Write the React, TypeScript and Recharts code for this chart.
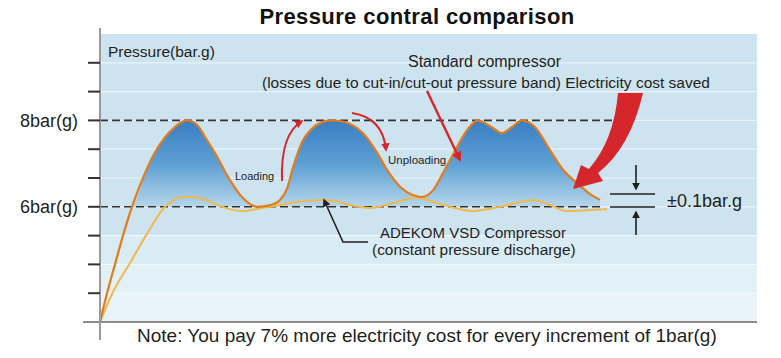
import React from 'react';
import {
  ComposedChart,
  Line,
  Area,
  XAxis,
  YAxis,
  ReferenceArea,
  ReferenceLine,
} from 'recharts';

// Chart box
const W = 781;
const H = 358;
const FONT = '"Liberation Sans", Arial, Helvetica, sans-serif';

// time axis 0..100, pressure level in grid steps (8bar(g) = 7, 6bar(g) = 4)
const stdTime = [
  0, 1.07, 2.28, 3.5, 4.87, 6.85, 8.4, 9.9, 11.4, 13.2, 14.8, 16.0, 17.5, 19.5, 21.6, 24.0,
  25.9, 27.4, 28.5, 29.4, 30.7, 32.4, 33.8, 35.0, 36.5, 38.0, 40.0, 42.2, 43.7, 45.7,
  47.6, 49.0, 50.7, 52.2, 53.7, 55.9, 57.5, 59.4, 61.2, 62.7, 64.2, 66.2, 68.5, 70.5,
  72.6, 74.6, 76.1,
];
const stdLevel = [
  0, 1, 2, 3, 4, 5.17, 5.9, 6.42, 6.77, 7.0, 6.84, 6.42, 5.87, 5.03, 4.34, 4.0,
  4.06, 4.24, 4.65, 5.38, 6.22, 6.74, 6.94, 7.0, 6.98, 6.88, 6.56, 5.87, 5.28, 4.69,
  4.41, 4.34, 4.58, 5.17, 5.8, 6.67, 7.0, 6.8, 6.56, 6.77, 7.0, 6.77, 5.97, 5.28,
  4.83, 4.44, 4.24,
];

const vsdTime = [
  0, 1.98, 4.57, 7.15, 9.89, 11.0, 12.5, 14.0, 16.0, 18.6, 21.6, 24.7, 26.6, 30.0, 33.9,
  35.8, 38.1, 41.1, 44.6, 48.2, 51.3, 53.3, 56.8, 60.9, 65.9, 68.5, 71.1, 74.6, 77.2,
];
const vsdLevel = [
  0, 1.04, 2.05, 3.06, 4.0, 4.2, 4.34, 4.34, 4.24, 4.0, 3.85, 3.96, 4.03, 4.17, 4.24,
  4.2, 4.06, 3.96, 4.13, 4.31, 4.13, 4.0, 3.85, 4.0, 4.24, 4.06, 3.85, 3.89, 3.92,
];

const levelTicks = [0, 1, 2, 3, 4, 5, 6, 7, 8, 9];
const labeledLevels = [7, 4];
const labeledNames = ['8bar(g)', '6bar(g)'];

// background bands (from level, to level)
const bandFrom = [3, 2, 1, 0];
const bandTo = [10, 3, 2, 1];
const bandColors = ['#cde3ef', '#d9ebf5', '#e2f0f8', '#e8f3fa'];

const limitLevels = [7, 4]; // 8bar / 6bar dashed limits
const limitEnds = [78.7, 76.6];

const BASE_LEVEL = 4;

const stdData = stdTime.map((t, i) => ({ t, level: stdLevel[i] }));
const fillData = stdData.map((d) => ({ t: d.t, level: Math.max(d.level, BASE_LEVEL) }));
const vsdData = vsdTime.map((t, i) => ({ t, level: vsdLevel[i] }));

function PressureTick(props: any) {
  const { x, y, payload } = props;
  const idx = labeledLevels.indexOf(payload?.value);
  if (idx < 0) return null;
  return (
    <text x={x} y={y} dy={6.5} textAnchor="end" fontSize={18} fill="#231f20" fontFamily={FONT}>
      {labeledNames[idx]}
    </text>
  );
}

const RED = '#d5262c';
const INK = '#231f20';

// Decorations: titles, notes and arrows painted over the chart
function Annotations() {
  return (
    <svg
      width={W}
      height={H}
      style={{ position: 'absolute', left: 0, top: 0, pointerEvents: 'none' }}
      fontFamily={FONT}
    >
      <defs>
        <marker id="redHead" viewBox="0 0 10 10" refX="8" refY="5" markerWidth="4.2" markerHeight="4.2" orient="auto">
          <path d="M0,0 L10,5 L0,10 z" fill={RED} />
        </marker>
        <marker id="inkHead" viewBox="0 0 10 10" refX="8" refY="5" markerWidth="5" markerHeight="5" orient="auto">
          <path d="M0,0 L10,5 L0,10 z" fill={INK} />
        </marker>
      </defs>

      {/* axis extensions */}
      <line x1={83} y1={322} x2={100} y2={322} stroke="#8c8c8c" strokeWidth={2} />
      <line x1={100} y1={28} x2={100} y2={34} stroke="#9a9a9a" strokeWidth={2} />
      <line x1={100} y1={322} x2={100} y2={340} stroke="#9a9a9a" strokeWidth={2} />

      <text x={417} y={24} textAnchor="middle" fontSize={22} fontWeight={700} letterSpacing={0.4} fill="#111">
        Pressure contral comparison
      </text>
      <text x={108} y={57} fontSize={15.5} fill={INK}>Pressure(bar.g)</text>
      <text x={408} y={67} fontSize={16} fill={INK}>Standard compressor</text>
      <text x={262} y={88} fontSize={15.5} fill={INK}>
        (losses due to cut-in/cut-out pressure band) Electricity cost saved
      </text>
      <text x={235} y={180} fontSize={11} fill={INK}>Loading</text>
      <text x={388} y={164} fontSize={11.5} fill={INK}>Unploading</text>
      <text x={380} y={238} fontSize={15} fill={INK}>ADEKOM VSD Compressor</text>
      <text x={372} y={255} fontSize={15.4} fill={INK}>(constant pressure discharge)</text>
      <text x={667} y={207} fontSize={18} fill={INK}>±0.1bar.g</text>
      <text x={137} y={342} fontSize={19} fill={INK}>
        Note: You pay 7% more electricity cost for every increment of 1bar(g)
      </text>

      {/* red arrows */}
      <line x1={427} y1={91} x2={460} y2={160} stroke={RED} strokeWidth={2.4} markerEnd="url(#redHead)" />
      <path d="M282,181 C281,152 287,130 302,121" fill="none" stroke={RED} strokeWidth={2} markerEnd="url(#redHead)" />
      <path d="M352,113 C372,116 384,128 386,150" fill="none" stroke={RED} strokeWidth={2} markerEnd="url(#redHead)" />
      <path
        d="M618,93 L643,93 Q630,148 598,173 L603,181 L573,189 L581,165 L589,169 Q614,140 618,93 Z"
        fill={RED}
      />

      {/* ±0.1 bar marks */}
      <line x1={610} y1={194} x2={655} y2={194} stroke={INK} strokeWidth={1.6} />
      <line x1={610} y1={207} x2={655} y2={207} stroke={INK} strokeWidth={1.6} />
      <line x1={636} y1={165} x2={636} y2={189} stroke={INK} strokeWidth={1.6} markerEnd="url(#inkHead)" />
      <line x1={636} y1={235} x2={636} y2={212} stroke={INK} strokeWidth={1.6} markerEnd="url(#inkHead)" />

      {/* VSD leader */}
      <polyline points="368,242 343,242 324,200" fill="none" stroke={INK} strokeWidth={1.6} markerEnd="url(#inkHead)" />
    </svg>
  );
}

export default function App() {
  return (
    <div style={{ position: 'absolute', left: 0, top: 0, width: W, height: H, background: '#fff' }}>
      <ComposedChart width={W} height={H} margin={{ top: 34, right: 24, bottom: 0, left: 0 }}>
        <defs>
          <linearGradient id="stdFill" x1="0" y1="0" x2="0" y2="1">
            <stop offset="0%" stopColor="#3a7ec3" />
            <stop offset="50%" stopColor="#5d9fd3" />
            <stop offset="100%" stopColor="#b6d6ea" />
          </linearGradient>
        </defs>
        <XAxis
          type="number"
          dataKey="t"
          domain={[0, 100]}
          allowDataOverflow
          tick={false}
          tickLine={false}
          height={36}
          axisLine={{ stroke: '#8c8c8c', strokeWidth: 2 }}
        />
        <YAxis
          type="number"
          domain={[0, 10]}
          ticks={levelTicks}
          interval={0}
          width={100}
          tickSize={12}
          tickMargin={10}
          tick={(p: any) => <PressureTick {...p} />}
          tickLine={{ stroke: '#333', strokeWidth: 2 }}
          axisLine={{ stroke: '#9a9a9a', strokeWidth: 2 }}
        />
        {bandFrom.map((from, i) => (
          <ReferenceArea
            key={`band-${i}`}
            y1={from}
            y2={bandTo[i]}
            fill={bandColors[i]}
            fillOpacity={1}
            stroke="none"
            zIndex={10}
          />
        ))}
        {levelTicks.slice(1).map((lv) => (
          <ReferenceLine
            key={`grid-${lv}`}
            y={lv}
            stroke="#ffffff"
            strokeOpacity={0.6}
            strokeWidth={1.2}
            zIndex={20}
          />
        ))}
        <Area
          data={fillData}
          dataKey="level"
          type="monotone"
          baseValue={BASE_LEVEL}
          stroke="none"
          fill="url(#stdFill)"
          fillOpacity={1}
          isAnimationActive={false}
          dot={false}
          activeDot={false}
        />
        {limitLevels.map((lv, i) => (
          <ReferenceLine
            key={`limit-${lv}`}
            segment={[
              { x: 0, y: lv },
              { x: limitEnds[i], y: lv },
            ]}
            stroke="#333"
            strokeWidth={1.6}
            strokeDasharray="8 4"
            zIndex={300}
          />
        ))}
        <Line
          data={vsdData}
          dataKey="level"
          type="monotone"
          stroke="#f0b94d"
          strokeWidth={2}
          dot={false}
          activeDot={false}
          isAnimationActive={false}
        />
        <Line
          data={stdData}
          dataKey="level"
          type="monotone"
          stroke="#e27d1d"
          strokeWidth={2.2}
          dot={false}
          activeDot={false}
          isAnimationActive={false}
        />
      </ComposedChart>
      <Annotations />
    </div>
  );
}
